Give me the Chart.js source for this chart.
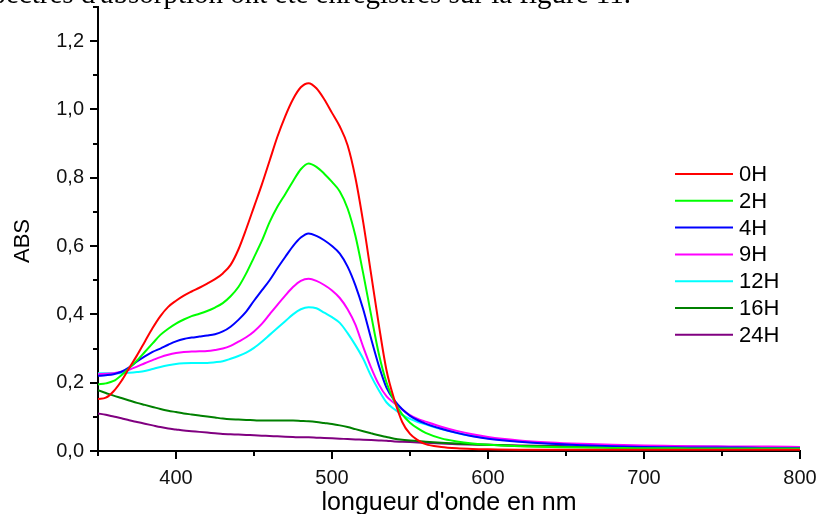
<!DOCTYPE html>
<html>
<head>
<meta charset="utf-8">
<script src="https://cdn.jsdelivr.net/npm/chart.js@4.4.1/dist/chart.umd.min.js"></script>
<style>
  body { margin: 0; background: #fff; }
  #wrap { width: 819px; height: 514px; position: relative; }
</style>
</head>
<body>
<div id="wrap"><canvas id="abs-chart"></canvas></div>
<script>
// longueur d'onde (nm)
const nm = [350, 355, 360, 365, 370, 375, 380, 385, 390, 395, 400, 405, 410, 415, 420, 425, 430, 435, 440, 445,
  450, 455, 460, 465, 470, 475, 480, 485, 490, 495, 500, 505, 510, 515, 520, 525, 530, 535, 540, 545,
  550, 555, 560, 570, 580, 590, 600, 620, 640, 660, 680, 700, 720, 740, 760, 780, 800];

// ABS par temps
const abs0H = [0.152, 0.156, 0.175, 0.205, 0.243, 0.28, 0.32, 0.36, 0.395, 0.422, 0.44, 0.455, 0.467, 0.478, 0.49, 0.503, 0.52, 0.545, 0.59, 0.65,
  0.715, 0.78, 0.85, 0.92, 0.98, 1.03, 1.065, 1.077, 1.062, 1.03, 0.99, 0.95, 0.895, 0.8, 0.67, 0.52, 0.37, 0.235, 0.15, 0.085,
  0.05, 0.032, 0.02, 0.012, 0.008, 0.006, 0.005, 0.004, 0.004, 0.004, 0.004, 0.004, 0.004, 0.004, 0.004, 0.004, 0.004];
const abs2H = [0.195, 0.198, 0.205, 0.222, 0.243, 0.265, 0.29, 0.315, 0.34, 0.358, 0.373, 0.385, 0.395, 0.402, 0.41, 0.42, 0.433, 0.453, 0.48, 0.52,
  0.567, 0.615, 0.67, 0.715, 0.752, 0.79, 0.825, 0.842, 0.832, 0.812, 0.788, 0.76, 0.71, 0.63, 0.52, 0.4, 0.285, 0.2, 0.145, 0.107,
  0.083, 0.066, 0.053, 0.037, 0.028, 0.022, 0.018, 0.014, 0.012, 0.01, 0.009, 0.008, 0.008, 0.007, 0.007, 0.007, 0.007];
const abs4H = [0.22, 0.222, 0.225, 0.232, 0.245, 0.262, 0.277, 0.29, 0.3, 0.311, 0.321, 0.328, 0.332, 0.335, 0.338, 0.342, 0.35, 0.364, 0.384, 0.408,
  0.44, 0.47, 0.5, 0.535, 0.568, 0.6, 0.625, 0.637, 0.63, 0.617, 0.6, 0.578, 0.54, 0.485, 0.415, 0.33, 0.25, 0.185, 0.148, 0.122,
  0.103, 0.09, 0.08, 0.065, 0.053, 0.043, 0.036, 0.027, 0.021, 0.017, 0.014, 0.012, 0.011, 0.01, 0.01, 0.009, 0.009];
const abs9H = [0.225, 0.226, 0.228, 0.232, 0.238, 0.247, 0.257, 0.266, 0.275, 0.282, 0.287, 0.29, 0.291, 0.292, 0.293, 0.296, 0.3, 0.308, 0.32, 0.333,
  0.35, 0.372, 0.4, 0.428, 0.455, 0.48, 0.498, 0.504, 0.498, 0.486, 0.47, 0.448, 0.415, 0.37, 0.305, 0.245, 0.195, 0.16, 0.14, 0.122,
  0.105, 0.094, 0.086, 0.071, 0.059, 0.049, 0.041, 0.031, 0.025, 0.021, 0.018, 0.016, 0.015, 0.014, 0.013, 0.013, 0.012];
const abs12H = [0.228, 0.228, 0.228, 0.228, 0.229, 0.231, 0.234, 0.24, 0.246, 0.251, 0.255, 0.257, 0.258, 0.258, 0.258, 0.26, 0.263, 0.27, 0.278, 0.288,
  0.302, 0.32, 0.34, 0.36, 0.38, 0.4, 0.415, 0.421, 0.418, 0.405, 0.392, 0.375, 0.345, 0.31, 0.27, 0.22, 0.178, 0.142, 0.122, 0.106,
  0.094, 0.085, 0.078, 0.064, 0.053, 0.044, 0.037, 0.028, 0.022, 0.018, 0.016, 0.014, 0.013, 0.013, 0.012, 0.012, 0.012];
const abs16H = [0.178, 0.17, 0.162, 0.155, 0.148, 0.141, 0.135, 0.129, 0.123, 0.118, 0.114, 0.11, 0.107, 0.104, 0.101, 0.098, 0.095, 0.093, 0.092, 0.091,
  0.09, 0.089, 0.089, 0.089, 0.089, 0.089, 0.088, 0.087, 0.085, 0.082, 0.079, 0.075, 0.07, 0.064, 0.058, 0.052, 0.046, 0.041, 0.036, 0.033,
  0.031, 0.029, 0.027, 0.024, 0.022, 0.02, 0.018, 0.015, 0.013, 0.012, 0.011, 0.01, 0.009, 0.009, 0.008, 0.008, 0.008];
const abs24H = [0.11, 0.106, 0.101, 0.096, 0.09, 0.085, 0.08, 0.075, 0.07, 0.066, 0.063, 0.06, 0.058, 0.056, 0.054, 0.052, 0.05, 0.049, 0.048, 0.047,
  0.046, 0.045, 0.044, 0.043, 0.042, 0.041, 0.04, 0.04, 0.039, 0.038, 0.037, 0.036, 0.035, 0.034, 0.033, 0.032, 0.031, 0.03, 0.028, 0.027,
  0.026, 0.025, 0.024, 0.022, 0.02, 0.019, 0.018, 0.016, 0.015, 0.014, 0.013, 0.012, 0.011, 0.011, 0.01, 0.01, 0.01];

const labels = ["0H", "2H", "4H", "9H", "12H", "16H", "24H"];
const series = [abs0H, abs2H, abs4H, abs9H, abs12H, abs16H, abs24H];
const colors = ["#ff0000", "#00ff00", "#0000ff", "#ff00ff", "#00ffff", "#008000", "#800080"];

// graduations
const xTicks = [400, 500, 600, 700, 800];
const xMinor = [350, 450, 550, 650, 750];
const yTicks = [0, 0.2, 0.4, 0.6, 0.8, 1.0, 1.2];
const yMinor = [0.1, 0.3, 0.5, 0.7, 0.9, 1.1, 1.3];

const FONT = "'Liberation Sans', Arial, sans-serif";

// petites graduations + titre ABS
const axisTicks = {
  id: "axisTicks",
  afterDraw(chart) {
    const ctx = chart.ctx;
    const area = chart.chartArea;
    const x = chart.scales.x;
    const y = chart.scales.y;
    ctx.save();
    ctx.strokeStyle = "#000";
    ctx.lineWidth = 2;
    ctx.beginPath();
    xTicks.concat(xMinor).forEach((v) => {
      const px = Math.round(x.getPixelForValue(v));
      const len = xTicks.includes(v) ? 8 : 5;
      ctx.moveTo(px, area.bottom);
      ctx.lineTo(px, area.bottom + len);
    });
    yTicks.concat(yMinor).forEach((v) => {
      const py = Math.round(y.getPixelForValue(v));
      const len = yTicks.includes(v) ? 8 : 5;
      ctx.moveTo(area.left, py);
      ctx.lineTo(area.left - len, py);
    });
    ctx.stroke();

    ctx.translate(23, 241);
    ctx.rotate(-Math.PI / 2);
    ctx.font = "22px " + FONT;
    ctx.fillStyle = "#000";
    ctx.textAlign = "center";
    ctx.textBaseline = "middle";
    ctx.fillText("ABS", 0, 0);
    ctx.restore();
  },
};

// legende dans le graphique
const innerLegend = {
  id: "innerLegend",
  afterDraw(chart) {
    const ctx = chart.ctx;
    ctx.save();
    ctx.font = "22px " + FONT;
    ctx.textBaseline = "middle";
    ctx.fillStyle = "#000";
    chart.data.datasets.forEach((ds, i) => {
      const yy = 174 + i * 26.8;
      ctx.strokeStyle = ds.borderColor;
      ctx.lineWidth = 2;
      ctx.beginPath();
      ctx.moveTo(675, yy);
      ctx.lineTo(733, yy);
      ctx.stroke();
      ctx.fillText(ds.label, 739, yy + 1);
    });
    ctx.restore();
  },
};

// texte du document coupe en haut
const topText = {
  id: "topText",
  afterDraw(chart) {
    const ctx = chart.ctx;
    ctx.save();
    ctx.font = "29px 'Liberation Serif', 'Times New Roman', serif";
    ctx.textAlign = "right";
    ctx.textBaseline = "alphabetic";
    ctx.fillStyle = "#000";
    ctx.fillText("spectres d'absorption ont été enregistrés sur la figure 11.", 631, 3);
    ctx.restore();
  },
};

const config = {
  type: "line",
  data: {
    datasets: series.map((s, i) => ({
      label: labels[i],
      data: nm.map((v, j) => ({ x: v, y: s[j] })),
      borderColor: colors[i],
      borderWidth: 2,
      pointRadius: 0,
      fill: false,
      cubicInterpolationMode: "monotone",
    })),
  },
  options: {
    responsive: true,
    maintainAspectRatio: false,
    animation: false,
    layout: { padding: { top: 7, right: 19, left: 0, bottom: 0 } },
    plugins: {
      legend: { display: false },
      tooltip: { enabled: false },
    },
    scales: {
      x: {
        type: "linear",
        min: 350,
        max: 800,
        afterBuildTicks: (scale) => {
          scale.ticks = xTicks.map((v) => ({ value: v }));
        },
        afterFit: (scale) => {
          scale.height = 63;
          scale.paddingLeft = 0;
          scale.paddingRight = 0;
        },
        border: { display: true, color: "#000", width: 2 },
        grid: { color: "rgba(0,0,0,0)", drawOnChartArea: false, tickLength: 8 },
        ticks: {
          color: "#111",
          font: { family: FONT, size: 20 },
          padding: 7,
          maxRotation: 0,
          callback: (v) => String(v),
        },
        title: {
          display: true,
          text: "longueur d'onde en nm",
          color: "#000",
          font: { family: FONT, size: 25, lineHeight: 1.1 },
          padding: { top: 0, bottom: -3 },
        },
      },
      y: {
        min: 0,
        max: 1.3,
        afterBuildTicks: (scale) => {
          scale.ticks = yTicks.map((v) => ({ value: v }));
        },
        afterFit: (scale) => {
          scale.width = 98;
          scale.paddingTop = 0;
          scale.paddingBottom = 0;
        },
        border: { display: true, color: "#000", width: 2 },
        grid: { color: "rgba(0,0,0,0)", drawOnChartArea: false, tickLength: 8 },
        ticks: {
          color: "#111",
          font: { family: FONT, size: 20 },
          padding: 6,
          callback: (v) => v.toFixed(1).replace(".", ","),
        },
      },
    },
  },
  plugins: [axisTicks, innerLegend, topText],
};

const myChart = new Chart(document.getElementById("abs-chart"), config);
</script>
</body>
</html>
